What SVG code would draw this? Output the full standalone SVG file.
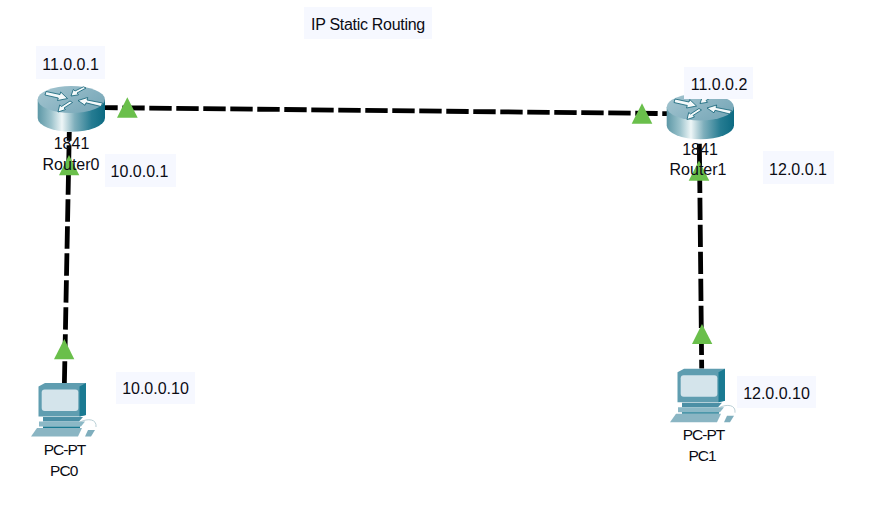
<svg xmlns="http://www.w3.org/2000/svg" width="877" height="516" viewBox="0 0 877 516">
<style>
text{font-family:"Liberation Sans",Arial,sans-serif;font-size:16px;fill:#0c0c14;text-anchor:middle}
.pc{font-size:15.5px;letter-spacing:-1px}
.ti{letter-spacing:-.3px}
.lb{fill:#f6f8ff}
.ln{stroke:#000;stroke-width:4.8;fill:none;stroke-dasharray:22.4 4.6}
.tr{fill:#6abf4b}
.ar{fill:#f4f9fa;stroke:#0d5f75;stroke-width:.8}
</style>
<defs>
<linearGradient id="side" x1="0" x2="1" y1="0" y2="0">
<stop offset="0" stop-color="#5c97a6"/><stop offset=".2" stop-color="#9cc3cc"/><stop offset=".36" stop-color="#eef6f7"/><stop offset=".55" stop-color="#7fafbc"/><stop offset=".8" stop-color="#267c92"/><stop offset="1" stop-color="#0c6a82"/>
</linearGradient>
<linearGradient id="top" x1="0" x2="1" y1="0" y2=".6">
<stop offset="0" stop-color="#a5c6d0"/><stop offset=".5" stop-color="#8fb7c5"/><stop offset="1" stop-color="#7aa9b9"/>
</linearGradient>
<g id="router">
<path d="M37.7 99.5V118A33.6 13.7 0 0 0 105 118V99.5Z" fill="url(#side)"/>
<ellipse cx="71.3" cy="99.5" rx="33.6" ry="13.5" fill="url(#top)"/>
<path class="ar" d="M46 91.5L60 94.5L60.7 92L67.5 98.5L57.5 100.5L58.3 98L45 95Z"/>
<path class="ar" d="M86 88L77 93L78.5 94.8L71 96L73.3 89.5L75 91L83.5 86.8Z"/>
<path class="ar" d="M72.5 102.5L64 108L65.5 109.5L58 112L59.7 105L61.5 106.5L70 101Z"/>
<path class="ar" d="M102.5 103L87 100L87.7 97.5L78 100.5L85 105.3L86 102.8L101 106.5Z"/>
</g>
<g id="pc">
<path d="M38.5 386.5L45 383H86V415L79.5 416.5H38.5Z" fill="#5f9db0"/>
<path d="M79.5 386.5L86 383V415L79.5 416.5Z" fill="#1a7a92"/>
<rect x="41.7" y="389.5" width="36.6" height="21.5" rx="3" fill="#d4e4eb"/>
<path d="M43 417H83L79 421.5H43Z" fill="#4b8fa5"/>
<path d="M39 421.5H85L81 426.5H39Z" fill="#8bb8c6"/>
<path d="M43 426.5H80V428H43Z" fill="#1a7a92"/>
<path d="M80 422C88 418 97 419 96 427" fill="none" stroke="#a8c4cc" stroke-width=".8"/>
<path d="M37 428H82L78 436.5H31Z" fill="#8ab5c3"/>
<path d="M85 436.5L88 430H95L91 436.5Z" fill="#7faebd"/>
</g>
</defs>
<rect class="lb" x="304" y="7" width="128" height="32"/>
<rect class="lb" x="36" y="46" width="69" height="33"/>
<rect class="lb" x="105" y="154" width="71" height="33"/>
<rect class="lb" x="116" y="372" width="79" height="32"/>
<rect class="lb" x="763" y="151" width="71" height="33"/>
<rect class="lb" x="737" y="376" width="79" height="32"/>
<g id="connectors">
<path class="ln" stroke-dashoffset="9.7" d="M105 107.6L667 113.6"/>
<path class="ln" stroke-dashoffset="13.7" d="M69.3 132L64.4 383"/>
<path class="ln" stroke-dashoffset="20.3" d="M699.3 137L701.7 368.5"/>
<path class="tr" d="M127.3 97.3L137.7 117.7H117Z"/>
<path class="tr" d="M642 103.3L652.3 123.7H631.7Z"/>
<path class="tr" d="M69 155L79.3 175.3H59Z"/>
<path class="tr" d="M699 160.5L709.3 180.7H688.7Z"/>
<path class="tr" d="M64.3 339L74.3 359.3H54Z"/>
<path class="tr" d="M702 324L712.3 344H692Z"/>
</g>
<g id="Router0"><use href="#router"/><text x="71.5" y="149">1841</text><text x="71" y="170">Router0</text></g>
<g id="Router1"><use href="#router" x="629" y="7.5"/><rect class="lb" x="684" y="67" width="69" height="32"/><text x="700" y="155">1841</text><text x="698" y="175.3">Router1</text></g>
<g id="PC0"><use href="#pc"/><text class="pc" x="64.5" y="455">PC-PT</text><text class="pc" x="63.7" y="475.5">PC0</text></g>
<g id="PC1"><use href="#pc" x="639" y="-14.3"/><text class="pc" x="703.5" y="440">PC-PT</text><text class="pc" x="702" y="460.5">PC1</text></g>
<g id="labels">
<text class="ti" x="368" y="30">IP Static Routing</text>
<text x="70.5" y="69.5">11.0.0.1</text>
<text x="139.5" y="176.5">10.0.0.1</text>
<text x="155.5" y="394">10.0.0.10</text>
<text x="719" y="90">11.0.0.2</text>
<text x="798" y="174.5">12.0.0.1</text>
<text x="776.5" y="399">12.0.0.10</text>
</g>
</svg>
